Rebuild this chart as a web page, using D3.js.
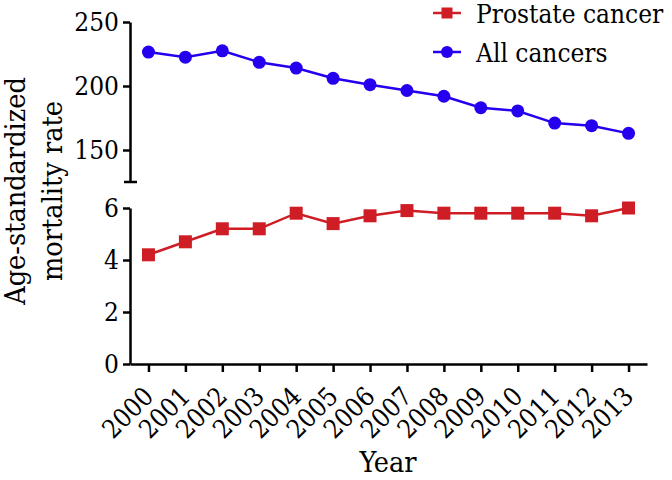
<!DOCTYPE html>
<html>
<head>
<meta charset="utf-8">
<script src="https://cdn.jsdelivr.net/npm/d3@7"></script>
<style>
  body { margin: 0; background: #fff; }
  svg text { font-family: "DejaVu Serif Condensed", "DejaVu Serif", serif; font-stretch: condensed; fill: #000; }
  .axis path, .axis line { stroke: #000; stroke-width: 2.5px; }
</style>
</head>
<body>
<div id="chart"></div>
<script>
var years = ["2000","2001","2002","2003","2004","2005","2006","2007","2008","2009","2010","2011","2012","2013"];
var allCancers = [226.5, 222.5, 227.5, 218.5, 214, 206, 201, 196.5, 192, 183, 180.5, 171, 169, 163];
var prostate = [4.2, 4.7, 5.2, 5.2, 5.8, 5.4, 5.7, 5.9, 5.8, 5.8, 5.8, 5.8, 5.7, 6.0];
var upperTicks = [150, 200, 250];
var lowerTicks = [0, 2, 4, 6];

var red = "#cf1d26", blue = "#2400ee";
var fontSize = 26, titleSize = 28.5;
var fontFam = "'DejaVu Serif Condensed', 'DejaVu Serif', serif";

var svg = d3.select("#chart").append("svg")
  .attr("width", 672).attr("height", 480);

var x = d3.scalePoint().domain(years).range([130, 647]).padding(0.5);
var yTop = d3.scaleLinear().domain([125, 250]).range([182, 22]);
var yBot = d3.scaleLinear().domain([0, 6]).range([364, 208]);

// upper y axis segment
var gTop = svg.append("g").attr("class", "axis").attr("transform", "translate(130,0)")
  .call(d3.axisLeft(yTop).tickValues(upperTicks).tickFormat(d3.format("d"))
    .tickSize(7).tickSizeOuter(0).tickPadding(4));
// break bar at the bottom of the upper segment
gTop.append("line")
  .attr("x1", -6).attr("x2", 7)
  .attr("y1", yTop(125)).attr("y2", yTop(125));

// lower y axis segment
var gBot = svg.append("g").attr("class", "axis").attr("transform", "translate(130,0)")
  .call(d3.axisLeft(yBot).tickValues(lowerTicks).tickFormat(d3.format("d"))
    .tickSize(7).tickSizeOuter(0).tickPadding(4));

// x axis
var gX = svg.append("g").attr("class", "axis").attr("transform", "translate(0,364)")
  .call(d3.axisBottom(x).tickSize(8).tickSizeOuter(0));

svg.selectAll(".axis text").style("font-size", fontSize + "px").style("font-family", fontFam);

gX.selectAll(".tick text")
  .attr("text-anchor", "end")
  .attr("dy", 0)
  .attr("y", 0)
  .attr("transform", "translate(6,34) rotate(-45)");

// all cancers
svg.append("path")
  .datum(allCancers)
  .attr("fill", "none").attr("stroke", blue).attr("stroke-width", 2.5)
  .attr("d", d3.line().x(function (d, i) { return x(years[i]); }).y(function (d) { return yTop(d); }));
svg.selectAll(".dotAll").data(allCancers).enter().append("circle")
  .attr("cx", function (d, i) { return x(years[i]); })
  .attr("cy", function (d) { return yTop(d); })
  .attr("r", 6.5).attr("fill", blue);

// prostate cancer
svg.append("path")
  .datum(prostate)
  .attr("fill", "none").attr("stroke", red).attr("stroke-width", 2.5)
  .attr("d", d3.line().x(function (d, i) { return x(years[i]); }).y(function (d) { return yBot(d); }));
svg.selectAll(".sqPro").data(prostate).enter().append("rect")
  .attr("x", function (d, i) { return x(years[i]) - 6.5; })
  .attr("y", function (d) { return yBot(d) - 6.5; })
  .attr("width", 13).attr("height", 13).attr("fill", red);

// axis titles
var yTitle = svg.append("text")
  .attr("transform", "translate(0,191) rotate(-90)")
  .attr("text-anchor", "middle")
  .style("font-size", titleSize + "px");
yTitle.append("tspan").attr("x", 0).attr("y", 25).text("Age-standardized");
yTitle.append("tspan").attr("x", 0).attr("y", 62).text("mortality rate");

svg.append("text")
  .attr("x", 388).attr("y", 472)
  .attr("text-anchor", "middle")
  .style("font-size", titleSize + "px")
  .text("Year");

// legend
var legendItems = [
  { name: "Prostate cancer", color: red, shape: "square", y: 13 },
  { name: "All cancers", color: blue, shape: "circle", y: 52 }
];
var lg = svg.selectAll(".legend").data(legendItems).enter().append("g")
  .attr("transform", function (d) { return "translate(433," + d.y + ")"; });
lg.append("line").attr("x1", 0).attr("x2", 28).attr("y1", 0).attr("y2", 0)
  .attr("stroke", function (d) { return d.color; }).attr("stroke-width", 2.5);
lg.filter(function (d) { return d.shape === "square"; }).append("rect")
  .attr("x", 8.5).attr("y", -5.5).attr("width", 11).attr("height", 11)
  .attr("fill", function (d) { return d.color; });
lg.filter(function (d) { return d.shape === "circle"; }).append("circle")
  .attr("cx", 14).attr("cy", 0).attr("r", 6)
  .attr("fill", function (d) { return d.color; });
lg.append("text").attr("x", 43).attr("y", 9.5)
  .style("font-size", fontSize + "px")
  .text(function (d) { return d.name; });
</script>
</body>
</html>
